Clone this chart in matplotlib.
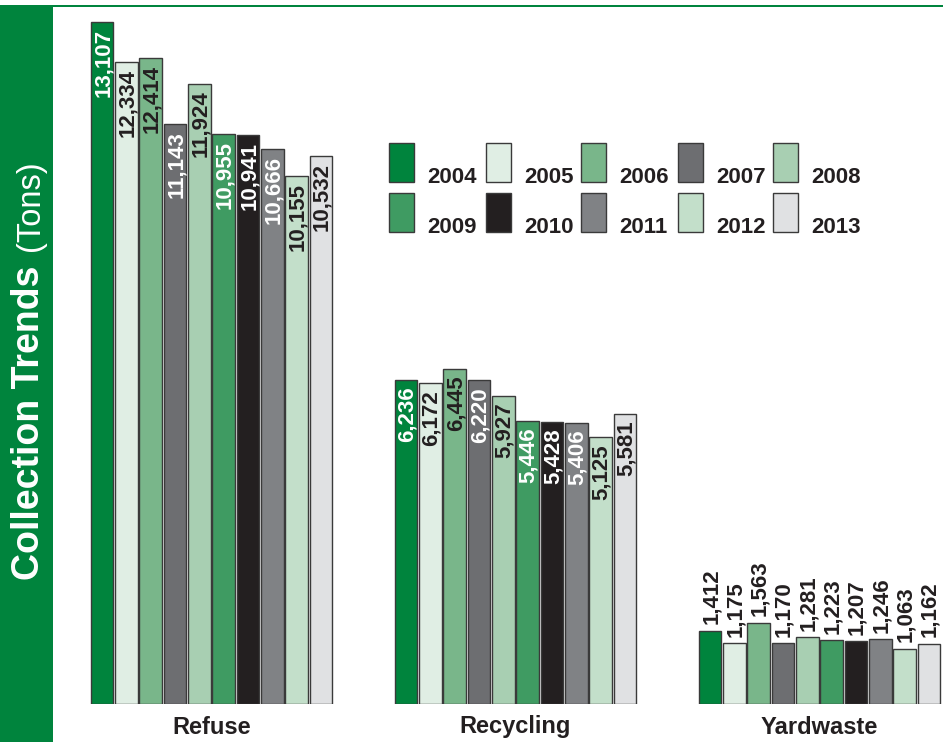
import os
import matplotlib
matplotlib.use("Agg")
import matplotlib.pyplot as plt
from matplotlib.patches import Rectangle
from matplotlib import font_manager as fm

# ---- data ----
categories = ["Refuse", "Recycling", "Yardwaste"]
years = ["2004", "2005", "2006", "2007", "2008", "2009", "2010", "2011", "2012", "2013"]
refuse = [13107, 12334, 12414, 11143, 11924, 10955, 10941, 10666, 10155, 10532]
recycling = [6236, 6172, 6445, 6220, 5927, 5446, 5428, 5406, 5125, 5581]
yardwaste = [1412, 1175, 1563, 1170, 1281, 1223, 1207, 1246, 1063, 1162]
series = [refuse, recycling, yardwaste]

colors = ["#00843d", "#e0eee4", "#79b68a", "#6d6e71", "#a8cfb2",
          "#3f9b62", "#231f20", "#808285", "#c3dfca", "#e0e1e3"]
text_colors = ["white", "#231f20", "#231f20", "white", "#231f20",
               "white", "white", "white", "#231f20", "#231f20"]

GREEN = "#00843d"
DARK = "#231f20"
W, H = 943, 742


def find_font(basename, fallback_weight):
    for f in fm.fontManager.ttflist:
        if os.path.basename(f.fname) == basename:
            return lambda size: fm.FontProperties(fname=f.fname, size=size)
    return lambda size: fm.FontProperties(family="DejaVu Sans", weight=fallback_weight, size=size)


BOLD = find_font("LiberationSans-Bold.ttf", "bold")
REG = find_font("LiberationSans-Regular.ttf", "normal")

fig = plt.figure(figsize=(W / 100, H / 100), dpi=100)
fig.patch.set_facecolor("white")


def fx(x):
    return x / W


def fy(y):
    return 1 - y / H


# left green strip and top line
fig.patches.append(Rectangle((0, 0), fx(53), fy(5), transform=fig.transFigure,
                             facecolor=GREEN, edgecolor="none", zorder=0))
fig.patches.append(Rectangle((fx(53), fy(7)), 1 - fx(53), 2 / H, transform=fig.transFigure,
                             facecolor=GREEN, edgecolor="none", zorder=0))

# axes
ax_left, ax_right, ax_top, ax_bottom = 90, 943, 5, 704
ax = fig.add_axes([fx(ax_left), fy(ax_bottom), fx(ax_right - ax_left), (ax_bottom - ax_top) / H])
ppu = 851 / 35.0
ax.set_xlim(-0.5, -0.5 + (ax_right - ax_left) / ppu)
scale = (704 - 22) / 13107.0
ax.set_ylim(0, (ax_bottom - ax_top) / scale)
ax.axis("off")

group_gap = 12.5
bw = 0.93
for g, (cat, vals) in enumerate(zip(categories, series)):
    xs = [g * group_gap + i for i in range(len(vals))]
    ax.bar(xs, vals, width=bw, color=colors, edgecolor="#3a3a3a", linewidth=1.0, zorder=2)
    for x, v, tc in zip(xs, vals, text_colors):
        lab = f"{v:,}"
        if g < 2:
            ax.annotate(lab, (x, v), xytext=(0.8, -5), textcoords="offset points",
                        rotation=90, ha="center", va="top", color=tc,
                        fontproperties=BOLD(16), zorder=3)
        else:
            ax.annotate(lab, (x, v), xytext=(0.8, 4.5), textcoords="offset points",
                        rotation=90, ha="center", va="bottom", color=DARK,
                        fontproperties=BOLD(16), zorder=3)
    ax.text(g * group_gap + 4.5, -(727 - 704) / (ax_bottom - ax_top), cat,
            transform=ax.get_xaxis_transform(), ha="center", va="center",
            fontproperties=BOLD(17), color=DARK)

# legend (custom layout: swatch with label to lower-right)
col_x = [389, 486, 581, 678, 773]
row_y = [(143, 182), (193, 232)]
for k, (yr, c) in enumerate(zip(years, colors)):
    r, cidx = divmod(k, 5)
    x0 = col_x[cidx]
    top, bot = row_y[r]
    fig.patches.append(Rectangle((fx(x0), fy(bot)), 25 / W, (bot - top) / H,
                                 transform=fig.transFigure, facecolor=c,
                                 edgecolor="#3a3a3a", linewidth=1.0))
    fig.text(fx(x0 + 38), fy(bot + 1), yr, ha="left", va="baseline",
             fontproperties=BOLD(16), color=DARK)

# vertical title in strip
t1 = fig.text(fx(29), fy(580), "Collection Trends", rotation=90, ha="center", va="bottom",
              fontproperties=BOLD(27), color="white")
fig.canvas.draw()
bb = t1.get_window_extent()
t2 = fig.text(fx(31), (bb.y1 + 15) / H, "(Tons)", rotation=90, ha="center", va="bottom",
              fontproperties=REG(23.5), color="white")

fig.savefig("out.png", dpi=100, facecolor="white")
